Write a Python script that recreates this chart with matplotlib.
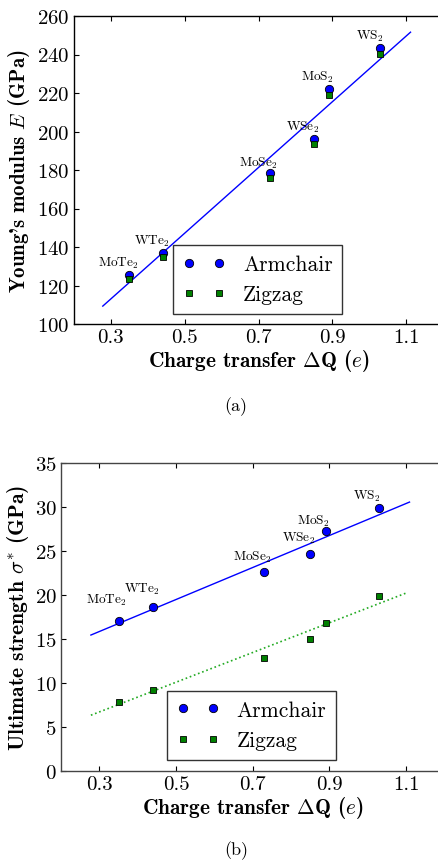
import matplotlib
matplotlib.use("Agg")
import matplotlib.pyplot as plt

plt.rcParams['font.family'] = 'serif'
plt.rcParams['font.serif'] = ['cmr10']
plt.rcParams['mathtext.fontset'] = 'cm'
plt.rcParams['axes.formatter.use_mathtext'] = True

# ---- data ----
materials = ['MoTe$_2$', 'WTe$_2$', 'MoSe$_2$', 'WSe$_2$', 'MoS$_2$', 'WS$_2$']
charge = [0.35, 0.44, 0.73, 0.85, 0.89, 1.03]

E_arm = [125.6, 136.8, 178.3, 196.2, 221.9, 243.2]
E_zig = [123.3, 134.6, 175.6, 193.4, 218.8, 240.4]
E_fit_x = [0.278, 1.112]
E_fit_y = [109.3, 251.6]

S_arm = [17.08, 18.68, 22.62, 24.64, 27.29, 29.91]
S_zig = [7.82, 9.26, 12.83, 15.00, 16.85, 19.85]
S_arm_fit_x = [0.278, 1.109]
S_arm_fit_y = [15.45, 30.56]
S_zig_fit_x = [0.278, 1.103]
S_zig_fit_y = [6.34, 20.27]

x_ticks = [0.3, 0.5, 0.7, 0.9, 1.1]
E_ticks = [100, 120, 140, 160, 180, 200, 220, 240, 260]
S_ticks = [0, 5, 10, 15, 20, 25, 30, 35]

# label offsets in pixels (from armchair point)
off_a = [(-11, 12), (-11, 13), (-11, 11), (-11, 12), (-11, 13), (-11, 13)]
off_b = [(-12, 21), (-11, 18), (-12, 16), (-12, 17), (-12, 10), (-12, 12)]

fig = plt.figure(figsize=(4.38, 8.62), dpi=100)

ax1 = fig.add_axes([74/438, 1-325/862, (443-74)/438, 308/862])
ax2 = fig.add_axes([61/438, 1-772/862, (444.4-61)/438, 308/862])

mk = dict(linestyle='none', markeredgecolor='black', markeredgewidth=0.6)

# panel (a)
ax1.plot(E_fit_x, E_fit_y, color='#0000ff', lw=1.0)
ax1.plot(charge, E_arm, marker='o', color='#0000ff', markersize=6, label='Armchair', **mk)
ax1.plot(charge, E_zig, marker='s', color='#008000', markersize=5, label='Zigzag', **mk)
for m, x, y, o in zip(materials, charge, E_arm, off_a):
    ax1.annotate(m, (x, y), xytext=o, textcoords='offset pixels', ha='center', va='center',
                 family='cmr10', fontsize=9.5)
ax1.set_xlim(0.2, 1.2)
ax1.set_ylim(100, 260)
ax1.set_xticks(x_ticks)
ax1.set_xticklabels(['%.1f' % t for t in x_ticks])
ax1.set_yticks(E_ticks)
ax1.set_xlabel(r"Charge transfer $\Delta$Q ($e$)", family='cmb10', fontsize=15.3, labelpad=1)
ax1.set_ylabel(r"Young's modulus $E$ (GPa)", family='cmb10', fontsize=15, labelpad=4)
leg1 = ax1.legend(loc='lower left', bbox_to_anchor=(0.268, 0.032), borderaxespad=0,
                  numpoints=2, fancybox=False, fontsize=15.5, handlelength=2.0,
                  labelspacing=0.5, handletextpad=0.8, borderpad=0.45)
leg1.get_frame().set_edgecolor('black')
leg1.get_frame().set_linewidth(1.0)

# panel (b)
ax2.plot(S_arm_fit_x, S_arm_fit_y, color='#0000ff', lw=1.0)
ax2.plot(S_zig_fit_x, S_zig_fit_y, color='#22aa22', lw=1.2, linestyle=':')
ax2.plot(charge, S_arm, marker='o', color='#0000ff', markersize=6, label='Armchair', **mk)
ax2.plot(charge, S_zig, marker='s', color='#008000', markersize=5, label='Zigzag', **mk)
for m, x, y, o in zip(materials, charge, S_arm, off_b):
    ax2.annotate(m, (x, y), xytext=o, textcoords='offset pixels', ha='center', va='center',
                 family='cmr10', fontsize=9.5)
ax2.set_xlim(0.2, 1.2)
ax2.set_ylim(0, 35)
ax2.set_xticks(x_ticks)
ax2.set_xticklabels(['%.1f' % t for t in x_ticks])
ax2.set_yticks(S_ticks)
ax2.set_xlabel(r"Charge transfer $\Delta$Q ($e$)", family='cmb10', fontsize=15.3, labelpad=1)
ax2.set_ylabel(r"Ultimate strength $\sigma^{*}$ (GPa)", family='cmb10', fontsize=15.5, labelpad=3)
leg2 = ax2.legend(loc='lower left', bbox_to_anchor=(0.276, 0.036), borderaxespad=0,
                  numpoints=2, fancybox=False, fontsize=15.5, handlelength=2.0,
                  labelspacing=0.5, handletextpad=0.8, borderpad=0.45)
leg2.get_frame().set_edgecolor('black')
leg2.get_frame().set_linewidth(1.0)

for ax, sc in ((ax1, 'black'), (ax2, '#444444')):
    ax.tick_params(direction='in', top=True, right=False, length=3.5, width=0.8,
                   labelsize=15, pad=3)
    for s in ax.spines.values():
        s.set_color(sc)
        s.set_linewidth(1.0)
    ax.spines['right'].set_visible(False)

fig.text(236/438, 1-407/862, '(a)', ha='center', va='center', fontsize=13)
fig.text(236/438, 1-851/862, '(b)', ha='center', va='center', fontsize=13)

fig.savefig('out.png', dpi=100)
